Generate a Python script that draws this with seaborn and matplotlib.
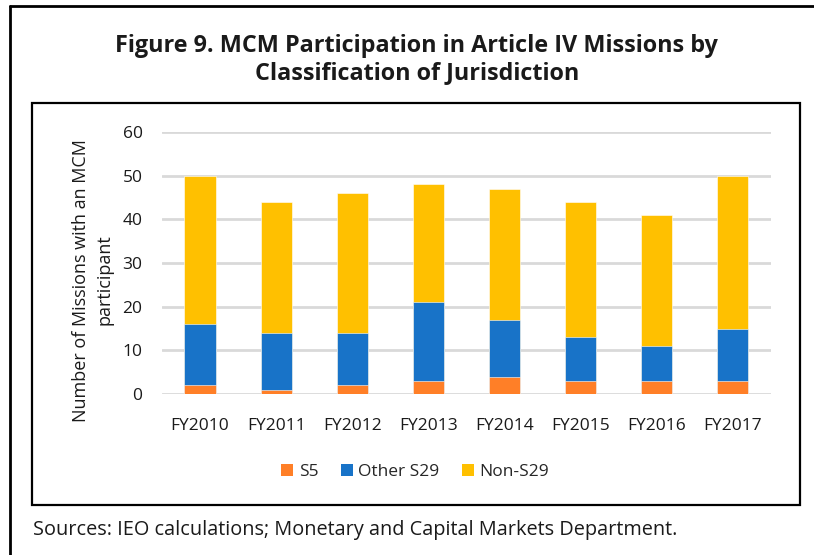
import matplotlib

matplotlib.use("Agg")
import matplotlib.pyplot as plt
import pandas as pd
import seaborn as sns
from matplotlib.lines import Line2D
from matplotlib.patches import Patch, Rectangle

years = ["FY2010", "FY2011", "FY2012", "FY2013", "FY2014", "FY2015", "FY2016", "FY2017"]
s5 = [2, 1, 2, 3, 4, 3, 3, 3]
other_s29 = [14, 13, 12, 18, 13, 10, 8, 12]
non_s29 = [34, 30, 32, 27, 30, 31, 30, 35]

series_names = ["S5", "Other S29", "Non-S29"]
colors = ["#FF7F27", "#1873C8", "#FFC000"]

sns.set_theme(style="white")
plt.rcParams["font.family"] = ["Open Sans", "DejaVu Sans"]

df = pd.DataFrame({"year": years, "S5": s5, "Other S29": other_s29, "Non-S29": non_s29})
# stacked bars: draw cumulative totals from the top layer down
df["top_s5"] = df["S5"]
df["top_other"] = df["S5"] + df["Other S29"]
df["top_non"] = df["top_other"] + df["Non-S29"]

fig = plt.figure(figsize=(8.14, 5.55), dpi=100)
ax = fig.add_axes([0.199, 0.290, 0.748, 0.472])

for col, color in zip(["top_non", "top_other", "top_s5"], colors[::-1]):
    sns.barplot(data=df, x="year", y=col, color=color, width=0.41, saturation=1,
                edgecolor="white", linewidth=0.4, ax=ax, zorder=3)

ax.set_ylim(0, 60)
ax.set_xlim(-0.5, 7.5)
ax.set_yticks(range(0, 61, 10))
ax.yaxis.grid(True, color="#D9D9D9", linewidth=2, zorder=0)
ax.set_axisbelow(True)
for side in ["top", "right", "left", "bottom"]:
    ax.spines[side].set_visible(False)
ax.tick_params(axis="both", length=0, labelsize=12.5, colors="#1a1a1a")
ax.tick_params(axis="x", pad=17)
ax.tick_params(axis="y", pad=14)
ax.set_xlabel("")
ax.set_ylabel("Number of Missions with an MCM\nparticipant", fontsize=13, color="#1a1a1a",
              linespacing=1.45)
ax.yaxis.set_label_coords(-0.079, 0.435)

handles = [Patch(facecolor=c, edgecolor="none") for c in colors]
fig.legend(handles, series_names, loc="center", bbox_to_anchor=(0.51, 0.15), ncol=3,
           frameon=False, fontsize=12.5, handlelength=0.7, handleheight=0.7,
           handletextpad=0.3, columnspacing=1.3)

fig.text(0.512, 0.918, "Figure 9. MCM Participation in Article IV Missions by",
         ha="center", va="center", fontsize=16.8, fontweight="bold", color="#1a1a1a")
fig.text(0.512, 0.868, "Classification of Jurisdiction",
         ha="center", va="center", fontsize=16.8, fontweight="bold", color="#1a1a1a")
fig.text(0.041, 1 - 530 / 555, "Sources: IEO calculations; Monetary and Capital Markets Department.",
         ha="left", va="center", fontsize=14.3, color="#1a1a1a")

# inner chart box
fig.patches.append(Rectangle((32 / 814, 1 - 505 / 555), (800 - 32) / 814, (505 - 103) / 555,
                             transform=fig.transFigure, fill=False, edgecolor="black",
                             linewidth=1.6))
# outer frame (top and left edges visible)
fig.lines.append(Line2D([10 / 814, 1], [1 - 6 / 555, 1 - 6 / 555], transform=fig.transFigure,
                        color="black", linewidth=2))
fig.lines.append(Line2D([10 / 814, 10 / 814], [0, 1 - 6 / 555], transform=fig.transFigure,
                        color="black", linewidth=2))

fig.savefig("out.png", dpi=100)
